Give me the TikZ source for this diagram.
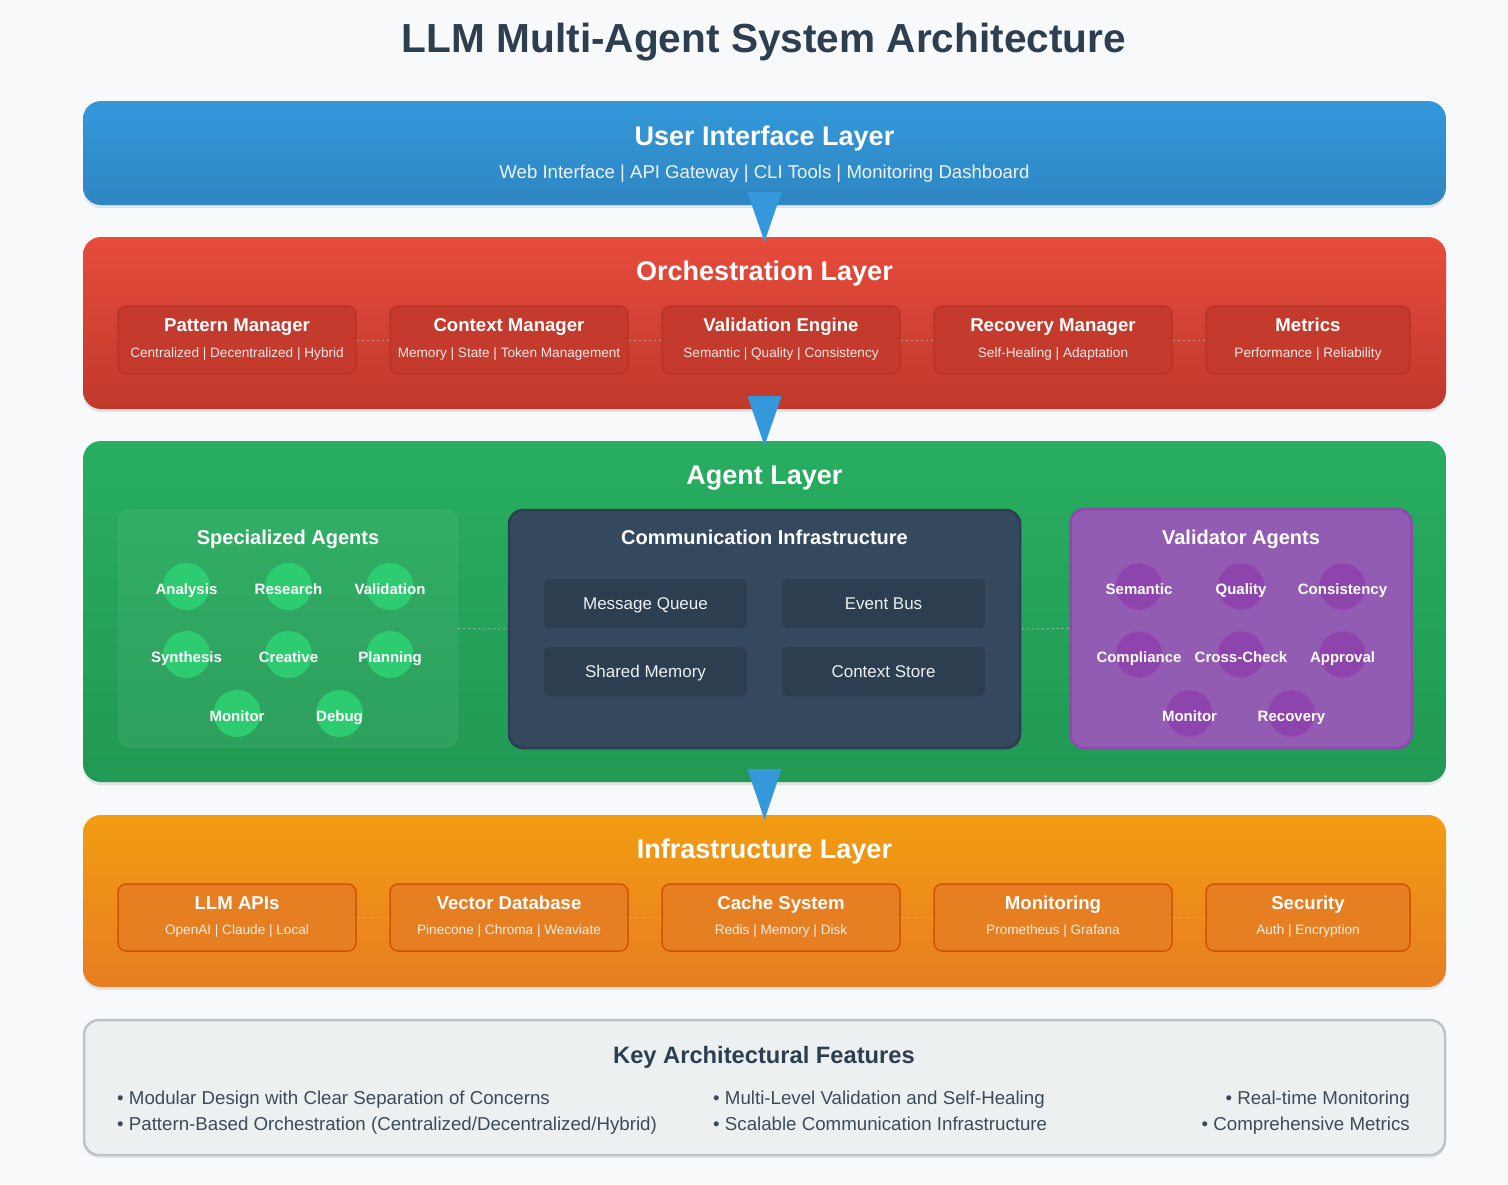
\documentclass[tikz,border=0pt]{standalone}
\usepackage{fontspec}
\setmainfont{Liberation Sans}
\usetikzlibrary{calc,shadows}
\definecolor{bgc}{HTML}{F8F9FA}
\definecolor{titlec}{HTML}{2C3E50}
\definecolor{uitop}{HTML}{3498DB}
\definecolor{uibot}{HTML}{2E86C1}
\definecolor{redtop}{HTML}{E74C3C}
\definecolor{redbot}{HTML}{C0392B}
\definecolor{grntop}{HTML}{27AE60}
\definecolor{grnbot}{HTML}{229954}
\definecolor{orgtop}{HTML}{F39C12}
\definecolor{orgbot}{HTML}{E67E22}
\definecolor{osubfill}{HTML}{C43A2D}
\definecolor{osubdraw}{HTML}{B33327}
\definecolor{isubfill}{HTML}{E67E22}
\definecolor{isubdraw}{HTML}{D35400}
\definecolor{commfill}{HTML}{34495E}
\definecolor{commdraw}{HTML}{2C3E50}
\definecolor{comminner}{HTML}{2C3E50}
\definecolor{commtext}{HTML}{ECF0F1}
\definecolor{gcircc}{HTML}{2ECC71}
\definecolor{valfill}{HTML}{925CB2}
\definecolor{valdraw}{HTML}{8E48AE}
\definecolor{pcircc}{HTML}{8E44AD}
\definecolor{pcircd}{HTML}{9A52B8}
\definecolor{featfill}{HTML}{ECF0F1}
\definecolor{featdraw}{HTML}{BDC3C7}
\definecolor{bulletc}{HTML}{3D4B59}
\definecolor{arrowc}{HTML}{3498DB}
\definecolor{dashc}{HTML}{BDC3C7}
\tikzset{
  fs/.style={font=\fontsize{#1}{#1}\selectfont, inner sep=0pt, anchor=base, yshift={-0.36*#1pt}},
  fsb/.style={font=\fontsize{#1}{#1}\selectfont\bfseries, inner sep=0pt, anchor=base, yshift={-0.36*#1pt}},
  layerbox/.style={rounded corners=18pt, minimum width=1363pt, inner sep=0pt,
     drop shadow={shadow xshift=0pt, shadow yshift=-3pt, opacity=0.09, fill=black}},
  ltitle/.style={fsb=27, text=white},
  obox/.style={rounded corners=8pt, inner sep=0pt, minimum height=68pt,
     fill=osubfill, draw=osubdraw, line width=1.2pt},
  ibox/.style={rounded corners=8pt, inner sep=0pt, minimum height=67pt,
     fill=isubfill, draw=isubdraw, line width=1.5pt},
  btitle/.style={fsb=18.6, text=white},
  bsub/.style={fs=13.6, text=white, text opacity=0.88},
  linkdash/.style={draw=dashc, draw opacity=0.6, line width=1pt, dash pattern=on 2.5pt off 2.5pt},
  gtitle/.style={fsb=20, text=white},
  gcirc/.style={circle, minimum size=47pt, inner sep=0pt, fill=gcircc},
  pcirc/.style={circle, minimum size=47pt, inner sep=0pt, fill=pcircc, draw=pcircd, line width=1pt},
  clabel/.style={fsb=15, text=white},
  cinner/.style={rounded corners=5pt, minimum width=203pt, minimum height=49pt, inner sep=0pt,
     fill=comminner},
  ctext/.style={fs=17, text=commtext},
  bullet/.style={fs=18.7, text=bulletc},
}
\newcommand{\subbox}[7]{%
  \node[#1, minimum width=#5pt] (#2) at (#3,#4) {};
  \node[btitle] (#2t) at ($(#2.center)+(0,-15)$) {#6};
  \node[bsub] (#2s) at ($(#2.center)+(0,12.5)$) {#7};
}
\begin{document}
\begin{tikzpicture}[x=1pt,y=-1pt]
\fill[bgc] (0,0) rectangle (1508,1184);
\useasboundingbox (0,0) rectangle (1508,1184);

\node[fsb=40.6, text=titlec] (title) at (764,38) {LLM Multi-Agent System Architecture};

% ---------- User Interface Layer
\node[layerbox, minimum height=104pt, top color=uitop, bottom color=uibot] (ui) at (764.5,153) {};
\node[ltitle] (uit) at (764.5,136) {User Interface Layer};
\node[fs=18.6, text=white, text opacity=0.92] (uis) at (764.5,172) {Web Interface | API Gateway | CLI Tools | Monitoring Dashboard};

% ---------- Orchestration Layer
\node[layerbox, minimum height=172pt, top color=redtop, bottom color=redbot] (orch) at (764.5,323) {};
\node[ltitle] (orcht) at (764.5,271) {Orchestration Layer};
\subbox{obox}{pm}{237}{340}{238}{Pattern Manager}{Centralized | Decentralized | Hybrid}
\subbox{obox}{cm}{509}{340}{238}{Context Manager}{Memory | State | Token Management}
\subbox{obox}{ve}{781}{340}{238}{Validation Engine}{Semantic | Quality | Consistency}
\subbox{obox}{rm}{1053}{340}{238}{Recovery Manager}{Self-Healing | Adaptation}
\subbox{obox}{mt}{1308}{340}{204}{Metrics}{Performance | Reliability}
\draw[linkdash] (pm.east) -- (cm.west);
\draw[linkdash] (cm.east) -- (ve.west);
\draw[linkdash] (ve.east) -- (rm.west);
\draw[linkdash] (rm.east) -- (mt.west);

% ---------- Agent Layer
\node[layerbox, minimum height=341pt, top color=grntop, bottom color=grnbot] (agent) at (764.5,611.5) {};
\node[ltitle] (agentt) at (764.5,475) {Agent Layer};

% Specialized agents
\node[rounded corners=12pt, minimum width=339pt, minimum height=237pt, inner sep=0pt,
      fill=white, fill opacity=0.05, draw=white, draw opacity=0.07, line width=1pt] (spec) at (288,628.5) {};
\node[gtitle] (spect) at (288,537) {Specialized Agents};
\foreach \nm/\xx/\yy/\tt in {sa1/186.5/586.5/Analysis, sa2/288.5/586.5/Research, sa3/390/586.5/Validation,
   sa4/186.5/654.5/Synthesis, sa5/288.5/654.5/Creative, sa6/390/654.5/Planning,
   sa7/237/713.5/Monitor, sa8/339.5/713.5/Debug}{
  \node[gcirc] (\nm) at (\xx,\yy) {};
  \node[clabel] (\nm l) at ($(\nm.center)+(0,2.5)$) {\tt};
}

% Communication infrastructure
\node[rounded corners=14pt, minimum width=511pt, minimum height=238pt, inner sep=0pt,
      fill=commfill, draw=commdraw, line width=2.5pt] (comm) at (764.5,629) {};
\node[gtitle] (commt) at (764.5,537) {Communication Infrastructure};
\node[cinner] (mq) at (645.5,603.5) {};
\node[cinner] (eb) at (883.5,603.5) {};
\node[cinner] (sm) at (645.5,671.5) {};
\node[cinner] (cs) at (883.5,671.5) {};
\node[ctext] (mqt) at (mq.center) {Message Queue};
\node[ctext] (ebt) at (eb.center) {Event Bus};
\node[ctext] (smt) at (sm.center) {Shared Memory};
\node[ctext] (cst) at (cs.center) {Context Store};

% Validator agents
\node[rounded corners=14pt, minimum width=341pt, minimum height=239pt, inner sep=0pt,
      fill=valfill, draw=valdraw, line width=2.5pt] (val) at (1241,628.5) {};
\node[gtitle] (valt) at (1241,537) {Validator Agents};
\foreach \nm/\xx/\yy/\tt in {va1/1139/586.5/Semantic, va2/1241/586.5/Quality, va3/1342.5/586.5/Consistency,
   va4/1139/654.5/Compliance, va5/1241/654.5/Cross-Check, va6/1342.5/654.5/Approval,
   va7/1189.5/713.5/Monitor, va8/1291.5/713.5/Recovery}{
  \node[pcirc] (\nm) at (\xx,\yy) {};
  \node[clabel] (\nm l) at ($(\nm.center)+(0,2.5)$) {\tt};
}
\draw[linkdash] (spec.east) -- (comm.west);
\draw[linkdash] (comm.east) -- (val.west);

% ---------- Infrastructure Layer
\node[layerbox, minimum height=172pt, top color=orgtop, bottom color=orgbot] (infra) at (764.5,901) {};
\node[ltitle] (infrat) at (764.5,849) {Infrastructure Layer};
\subbox{ibox}{llm}{237}{917.5}{238}{LLM APIs}{OpenAI | Claude | Local}
\subbox{ibox}{vdb}{509}{917.5}{238}{Vector Database}{Pinecone | Chroma | Weaviate}
\subbox{ibox}{cache}{781}{917.5}{238}{Cache System}{Redis | Memory | Disk}
\subbox{ibox}{mon}{1053}{917.5}{238}{Monitoring}{Prometheus | Grafana}
\subbox{ibox}{sec}{1308}{917.5}{204}{Security}{Auth | Encryption}
\draw[linkdash] (llm.east) -- (vdb.west);
\draw[linkdash] (vdb.east) -- (cache.west);
\draw[linkdash] (cache.east) -- (mon.west);
\draw[linkdash] (mon.east) -- (sec.west);

% ---------- Flow arrows
\fill[arrowc] ($(ui.south)+(-17,-13)$) -- ($(ui.south)+(17,-13)$) -- ($(orch.north)+(0,5)$) -- cycle;
\fill[arrowc] ($(orch.south)+(-17,-13)$) -- ($(orch.south)+(17,-13)$) -- ($(agent.north)+(0,5)$) -- cycle;
\fill[arrowc] ($(agent.south)+(-17,-13)$) -- ($(agent.south)+(17,-13)$) -- ($(infra.north)+(0,5)$) -- cycle;

% ---------- Key features
\node[rounded corners=15pt, minimum width=1361pt, minimum height=135pt, inner sep=0pt,
      fill=featfill, draw=featdraw, line width=2.5pt,
      drop shadow={shadow xshift=0pt, shadow yshift=-3pt, opacity=0.07, fill=black}] (feat) at (764.5,1087.5) {};
\node[fsb=23.7, text=titlec] (featt) at (764,1055) {Key Architectural Features};
\node[bullet, anchor=base west] (f1) at (117,1098) {• Modular Design with Clear Separation of Concerns};
\node[bullet, anchor=base west] (f2) at (117,1124) {• Pattern-Based Orchestration (Centralized/Decentralized/Hybrid)};
\node[bullet, anchor=base west] (f3) at (713,1098) {• Multi-Level Validation and Self-Healing};
\node[bullet, anchor=base west] (f4) at (713,1124) {• Scalable Communication Infrastructure};
\node[bullet, anchor=base east] (f5) at (1410,1098) {• Real-time Monitoring};
\node[bullet, anchor=base east] (f6) at (1410,1124) {• Comprehensive Metrics};
\end{tikzpicture}
\end{document}
